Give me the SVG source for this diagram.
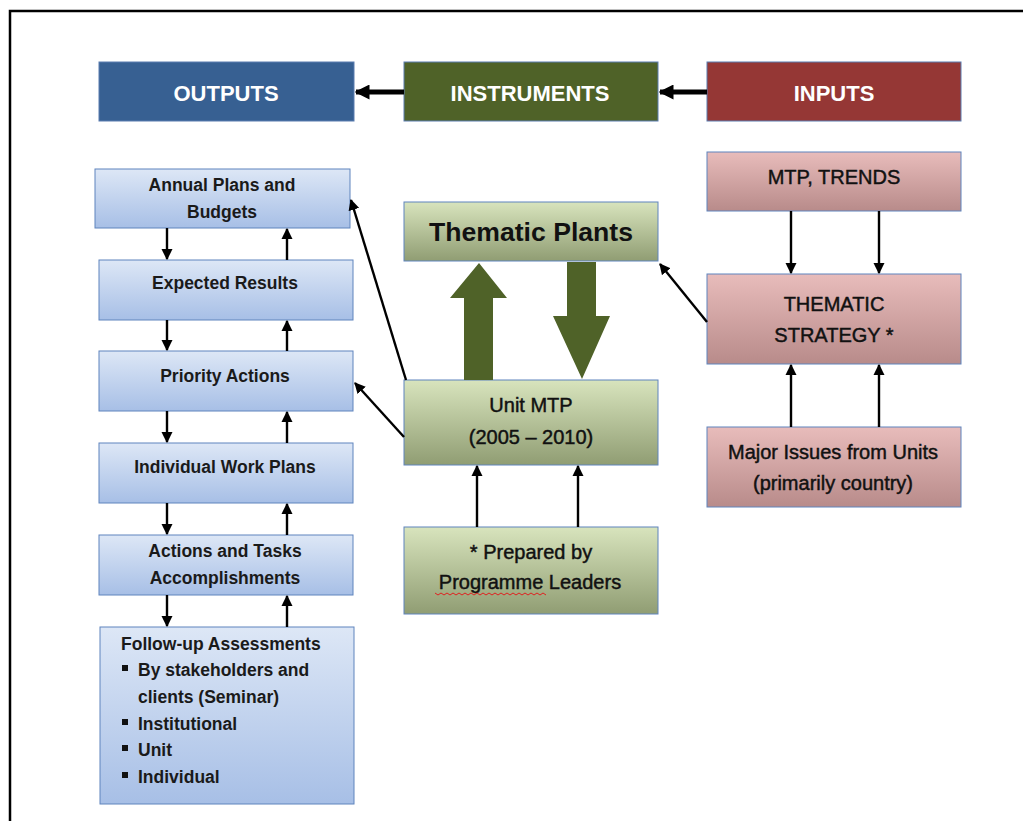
<svg xmlns="http://www.w3.org/2000/svg" width="1023" height="821" viewBox="0 0 1023 821">
  <defs>
    <linearGradient id="gBlue" x1="0" y1="0" x2="0" y2="1">
      <stop offset="0" stop-color="#dde7f6"/>
      <stop offset="1" stop-color="#a7bfe6"/>
    </linearGradient>
    <linearGradient id="gGreen" x1="0" y1="0" x2="0" y2="1">
      <stop offset="0" stop-color="#d8e4bd"/>
      <stop offset="1" stop-color="#909d73"/>
    </linearGradient>
    <linearGradient id="gRed" x1="0" y1="0" x2="0" y2="1">
      <stop offset="0" stop-color="#e8bcbb"/>
      <stop offset="1" stop-color="#b88b8a"/>
    </linearGradient>
    <marker id="ah" viewBox="0 0 10 10" refX="9" refY="5" markerWidth="4.6" markerHeight="4.6" orient="auto" markerUnits="strokeWidth">
      <path d="M0,0 L10,5 L0,10 Z" fill="#000"/>
    </marker>
    <marker id="ahBig" viewBox="0 0 10 10" refX="9" refY="5" markerWidth="3" markerHeight="3" orient="auto" markerUnits="strokeWidth">
      <path d="M0,0 L10,5 L0,10 Z" fill="#000"/>
    </marker>
  </defs>
  <style>
    .hdr { stroke: #5b7db0; stroke-width: 1; }
    .blue { fill: url(#gBlue); stroke: #5f84bd; stroke-width: 1; }
    .green { fill: url(#gGreen); stroke: #5f84bd; stroke-width: 1; }
    .red { fill: url(#gRed); stroke: #5f84bd; stroke-width: 1; }
    text { font-family: "Liberation Sans", Arial, sans-serif; fill: #111; }
    .ht { font-size: 22px; font-weight: bold; fill: #fff; text-anchor: middle; }
    .lt { font-size: 17.5px; font-weight: bold; text-anchor: middle; fill: #1a1a1a; }
    .ll { font-size: 17.5px; font-weight: bold; fill: #1a1a1a; }
    .mt { font-size: 20px; text-anchor: middle; stroke: #111; stroke-width: 0.45; }
    .conn { stroke: #000; stroke-width: 2.4; fill: none; marker-end: url(#ah); }
    .thick { stroke: #000; stroke-width: 5; fill: none; marker-end: url(#ahBig); }
    .big { fill: #4f6228; }
  </style>

  <rect x="0" y="0" width="1023" height="821" fill="#fff"/>
  <!-- page frame -->
  <path d="M10,821 V11 H1023" stroke="#000" stroke-width="2.5" fill="none"/>

  <!-- header bar -->
  <g id="outputs">
    <rect x="99" y="62" width="255" height="59" fill="#376092" class="hdr"/>
    <text x="226" y="101" class="ht">OUTPUTS</text>
  </g>
  <g id="instruments">
    <rect x="404" y="62" width="254" height="59" fill="#4f6228" class="hdr"/>
    <text x="530" y="101" class="ht">INSTRUMENTS</text>
  </g>
  <g id="inputs">
    <rect x="707" y="62" width="254" height="59" fill="#953735" class="hdr"/>
    <text x="834" y="101" class="ht">INPUTS</text>
  </g>

  <!-- outputs column -->
  <g id="annual-plans">
    <rect x="95" y="169" width="255" height="59" class="blue"/>
    <text x="222" y="191" class="lt">Annual Plans and</text>
    <text x="222" y="218" class="lt">Budgets</text>
  </g>
  <g id="expected-results">
    <rect x="99" y="260" width="254" height="60" class="blue"/>
    <text x="225" y="289" class="lt">Expected Results</text>
  </g>
  <g id="priority-actions">
    <rect x="99" y="351" width="254" height="60" class="blue"/>
    <text x="225" y="382" class="lt">Priority  Actions</text>
  </g>
  <g id="work-plans">
    <rect x="99" y="443" width="254" height="60" class="blue"/>
    <text x="225" y="473" class="lt">Individual Work Plans</text>
  </g>
  <g id="actions-tasks">
    <rect x="99" y="535" width="254" height="60" class="blue"/>
    <text x="225" y="557" class="lt">Actions and Tasks</text>
    <text x="225" y="584" class="lt">Accomplishments</text>
  </g>
  <g id="follow-up">
    <rect x="100" y="627" width="254" height="177" class="blue"/>
    <text x="121" y="650" class="ll">Follow-up Assessments</text>
    <rect x="122" y="665" width="6" height="6" fill="#111"/>
    <text x="138" y="676" class="ll">By stakeholders and</text>
    <text x="138" y="703" class="ll">clients (Seminar)</text>
    <rect x="122" y="719" width="6" height="6" fill="#111"/>
    <text x="138" y="730" class="ll">Institutional</text>
    <rect x="122" y="745" width="6" height="6" fill="#111"/>
    <text x="138" y="756" class="ll">Unit</text>
    <rect x="122" y="772" width="6" height="6" fill="#111"/>
    <text x="138" y="783" class="ll">Individual</text>
  </g>

  <!-- instruments column -->
  <g id="thematic-plants">
    <rect x="404" y="202" width="254" height="59" class="green"/>
    <text x="531" y="241" text-anchor="middle" font-size="25" font-weight="bold" textLength="204" lengthAdjust="spacingAndGlyphs">Thematic Plants</text>
  </g>
  <g id="unit-mtp">
    <rect x="404" y="380" width="254" height="85" class="green"/>
    <text x="531" y="412" class="mt" font-size="21">Unit MTP</text>
    <text x="531" y="444" class="mt" font-size="21">(2005 – 2010)</text>
  </g>
  <g id="prepared-by">
    <rect x="404" y="527" width="254" height="87" class="green"/>
    <text x="531" y="559" class="mt" font-size="22">* Prepared by</text>
    <text x="530" y="589" class="mt" font-size="22">Programme Leaders</text>
    <path d="M435,593 l3,2 l3,-2 l3,2 l3,-2 l3,2 l3,-2 l3,2 l3,-2 l3,2 l3,-2 l3,2 l3,-2 l3,2 l3,-2 l3,2 l3,-2 l3,2 l3,-2 l3,2 l3,-2 l3,2 l3,-2 l3,2 l3,-2 l3,2 l3,-2 l3,2 l3,-2 l3,2 l3,-2 l3,2 l3,-2 l3,2 l3,-2 l3,2 l3,-2 l3,2" stroke="#e02020" stroke-width="1" fill="none"/>
  </g>

  <!-- inputs column -->
  <g id="mtp-trends">
    <rect x="707" y="152" width="254" height="59" class="red"/>
    <text x="834" y="184" class="mt">MTP, TRENDS</text>
  </g>
  <g id="thematic-strategy">
    <rect x="707" y="274" width="254" height="90" class="red"/>
    <text x="834" y="311" class="mt" font-size="21">THEMATIC</text>
    <text x="834" y="342" class="mt" font-size="21">STRATEGY *</text>
  </g>
  <g id="major-issues">
    <rect x="707" y="427" width="254" height="80" class="red"/>
    <text x="833" y="459" class="mt" font-size="22">Major Issues from Units</text>
    <text x="833" y="490" class="mt" font-size="22">(primarily country)</text>
  </g>

  <!-- connectors -->
  <g id="connectors">
    <line x1="404" y1="92" x2="356" y2="92" class="thick"/>
    <line x1="707" y1="92" x2="660" y2="92" class="thick"/>

    <line x1="167" y1="228" x2="167" y2="259" class="conn"/>
    <line x1="287" y1="260" x2="287" y2="229" class="conn"/>
    <line x1="167" y1="320" x2="167" y2="350" class="conn"/>
    <line x1="287" y1="351" x2="287" y2="321" class="conn"/>
    <line x1="167" y1="411" x2="167" y2="442" class="conn"/>
    <line x1="287" y1="443" x2="287" y2="412" class="conn"/>
    <line x1="167" y1="503" x2="167" y2="534" class="conn"/>
    <line x1="287" y1="535" x2="287" y2="504" class="conn"/>
    <line x1="167" y1="595" x2="167" y2="626" class="conn"/>
    <line x1="287" y1="627" x2="287" y2="596" class="conn"/>

    <line x1="406" y1="380" x2="351" y2="200" class="conn"/>
    <line x1="404" y1="437" x2="355" y2="383" class="conn"/>
    <line x1="707" y1="322" x2="660" y2="264" class="conn"/>

    <line x1="477" y1="527" x2="477" y2="466" class="conn"/>
    <line x1="578" y1="527" x2="578" y2="466" class="conn"/>

    <line x1="791" y1="211" x2="791" y2="273" class="conn"/>
    <line x1="879" y1="211" x2="879" y2="273" class="conn"/>
    <line x1="791" y1="427" x2="791" y2="365" class="conn"/>
    <line x1="879" y1="427" x2="879" y2="365" class="conn"/>

    <!-- block arrows between Unit MTP and Thematic Plants -->
    <path class="big" d="M464,380 V298 H450 L479,263 L507,298 H493 V380 Z"/>
    <path class="big" d="M567,262 V316 H553 L582,379 L610,316 H596 V262 Z"/>
  </g>
</svg>
